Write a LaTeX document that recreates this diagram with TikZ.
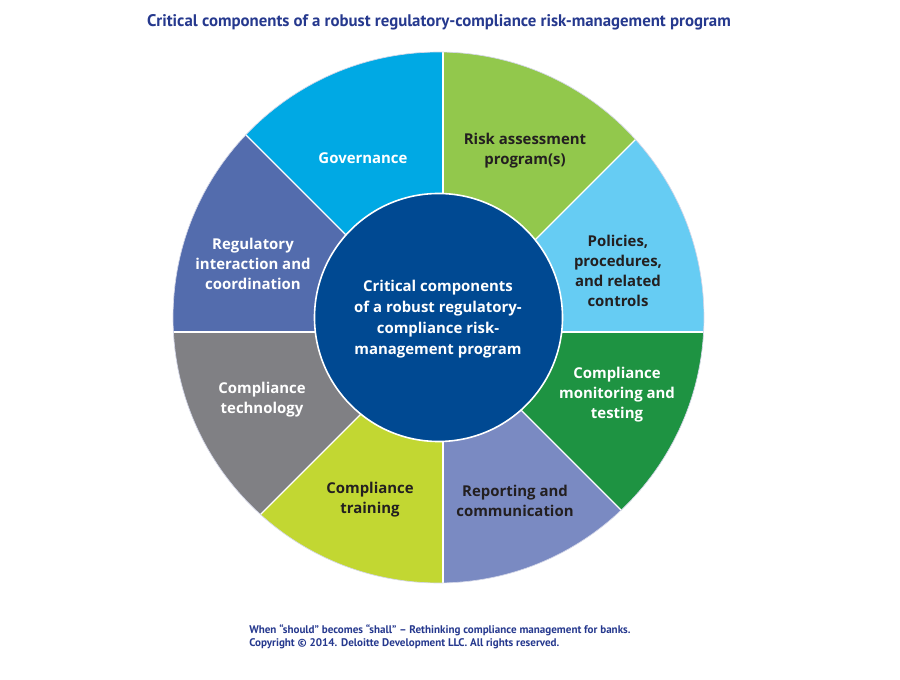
\documentclass[tikz,border=0pt]{standalone}
\usepackage{fontspec}
\setmainfont{Open Sans}
\newfontfamily\headfont{PT Sans}
\usetikzlibrary{positioning}

\definecolor{govblue}{RGB}{0,169,228}
\definecolor{riskgreen}{RGB}{146,200,76}
\definecolor{polblue}{RGB}{102,204,243}
\definecolor{mongreen}{RGB}{30,147,66}
\definecolor{replav}{RGB}{122,138,194}
\definecolor{trainlime}{RGB}{194,215,50}
\definecolor{techgray}{RGB}{128,128,132}
\definecolor{regslate}{RGB}{83,108,173}
\definecolor{hubblue}{RGB}{0,73,146}
\definecolor{inkblue}{RGB}{38,57,142}
\definecolor{inkdark}{RGB}{35,31,32}

\begin{document}
\begin{tikzpicture}[x=0.75pt,y=0.75pt,yscale=-1,xscale=1,
  seglabel/.style={font=\bfseries\fontsize{11.2}{15}\selectfont, align=center, inner sep=0pt},
  lightlabel/.style={seglabel, text=white},
  darklabel/.style={seglabel, text=inkdark},
  divider/.style={draw=white, line width=1pt}]
\useasboundingbox (0,0) rectangle (900,680);

% centre of the rings and the point the dividers meet
\coordinate (hub) at (438.5,317.5);
\coordinate (split) at (443,332);
% far ends of the eight dividers
\coordinate (rN) at (443,-68);
\coordinate (rNE) at (726,49);
\coordinate (rE) at (843,332);
\coordinate (rSE) at (726,615);
\coordinate (rS) at (443,732);
\coordinate (rSW) at (160,615);
\coordinate (rW) at (43,332);
\coordinate (rNW) at (160,49);

%Shape: Sector [Governance]
\begin{scope}
\clip (split) -- (rNW) -- (rN) -- cycle;
\fill[govblue] (hub) circle (199.1pt);
\end{scope}
%Shape: Sector [Risk assessment]
\begin{scope}
\clip (split) -- (rN) -- (rNE) -- cycle;
\fill[riskgreen] (hub) circle (199.1pt);
\end{scope}
%Shape: Sector [Policies]
\begin{scope}
\clip (split) -- (rNE) -- (rE) -- cycle;
\fill[polblue] (hub) circle (199.1pt);
\end{scope}
%Shape: Sector [Monitoring]
\begin{scope}
\clip (split) -- (rE) -- (rSE) -- cycle;
\fill[mongreen] (hub) circle (199.1pt);
\end{scope}
%Shape: Sector [Reporting]
\begin{scope}
\clip (split) -- (rSE) -- (rS) -- cycle;
\fill[replav] (hub) circle (199.1pt);
\end{scope}
%Shape: Sector [Training]
\begin{scope}
\clip (split) -- (rS) -- (rSW) -- cycle;
\fill[trainlime] (hub) circle (199.1pt);
\end{scope}
%Shape: Sector [Technology]
\begin{scope}
\clip (split) -- (rSW) -- (rW) -- cycle;
\fill[techgray] (hub) circle (199.1pt);
\end{scope}
%Shape: Sector [Regulatory]
\begin{scope}
\clip (split) -- (rW) -- (rNW) -- cycle;
\fill[regslate] (hub) circle (199.1pt);
\end{scope}

%Straight Lines [dividers]
\begin{scope}
\clip (hub) circle (199.1pt);
\draw[divider] (split) -- (rN);
\draw[divider] (split) -- (rNE);
\draw[divider] (split) -- (rE);
\draw[divider] (split) -- (rSE);
\draw[divider] (split) -- (rS);
\draw[divider] (split) -- (rSW);
\draw[divider] (split) -- (rW);
\draw[divider] (split) -- (rNW);
\end{scope}

%Shape: Circle [rim]
\draw[color=white!80!inkblue, line width=0.5pt] (hub) circle (199.1pt);
%Shape: Circle [hub]
\draw[draw=white, line width=1.2pt, fill=hubblue] (hub) circle (93pt);

% Text Node
\node[lightlabel] (gov) at (363,158) {Governance};
% Text Node
\node[darklabel] (risk) at (525,151) {Risk assessment\\program(s)};
% Text Node
\node[darklabel] (policies) at (618,271) {Policies,\\procedures,\\and related\\controls};
% Text Node
\node[lightlabel] (monitoring) at (617,395) {Compliance\\monitoring and\\testing};
% Text Node
\node[darklabel] (reporting) at (515,501) {Reporting and\\communication};
% Text Node
\node[darklabel] (training) at (370,500) {Compliance\\training};
% Text Node
\node[lightlabel] (technology) at (262,400) {Compliance\\technology};
% Text Node
\node[lightlabel] (regulatory) at (253,264) {Regulatory\\interaction and\\coordination};
% Text Node
\node[lightlabel, font=\bfseries\fontsize{11.2}{15.75}\selectfont] (core) at (438,319) {Critical components\\of a robust regulatory-\\compliance risk-\\management program};

% Text Node
\node[font=\headfont\bfseries\fontsize{12.6}{14}\selectfont, text=inkblue, inner sep=0pt] (title) at (439,22) {Critical components of a robust regulatory-compliance risk-management program};
% Text Node
\node[font=\headfont\bfseries\fontsize{8.3}{9.75}\selectfont, text=inkblue, align=left, anchor=west, inner sep=0pt] (source) at (249,637) {When “should” becomes “shall” – Rethinking compliance management for banks.\\Copyright © 2014. Deloitte Development LLC. All rights reserved.};

\end{tikzpicture}
\end{document}
